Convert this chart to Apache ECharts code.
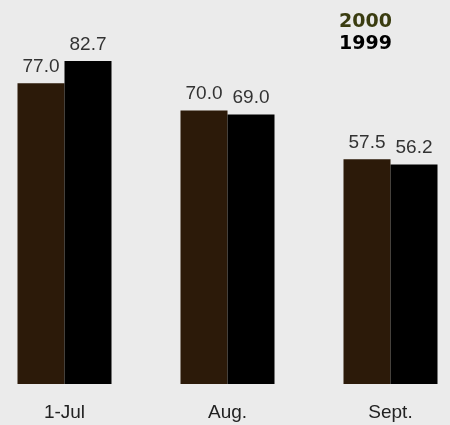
<!DOCTYPE html>
<html><head><meta charset="utf-8">
<script src="https://cdn.jsdelivr.net/npm/echarts@6/dist/echarts.min.js"></script>
<style>html,body{margin:0;padding:0;background:#ebebeb}#c{width:450px;height:425px}</style>
</head><body><div id="c"></div>
<script>
const categories = ['1-Jul', 'Aug.', 'Sept.'];
const values2000 = [77.0, 70.0, 57.5];
const values1999 = [82.7, 69.0, 56.2];
const seriesNames = ['2000', '1999'];

const chart = echarts.init(document.getElementById('c'), null, {renderer: 'canvas'});
const labelFont = {show: true, position: 'top', distance: 7, color: '#333', fontSize: 19,
  fontFamily: '"Liberation Sans", Arial, sans-serif',
  formatter: p => p.value.toFixed(1)};
chart.setOption({
  backgroundColor: '#ebebeb',
  animation: false,
  legend: {
    orient: 'vertical', right: 58, top: 13, itemGap: 3, itemWidth: 0, itemHeight: 0,
    selectedMode: false, padding: 0,
    textStyle: {fontSize: 19, fontWeight: 'bold', fontFamily: '"DejaVu Sans", sans-serif', padding: 0},
    data: [
      {name: seriesNames[0], icon: 'rect', textStyle: {color: '#3a3c10'}},
      {name: seriesNames[1], icon: 'rect', textStyle: {color: '#000'}}
    ]
  },
  grid: {left: 64.5, right: 59.5, top: 32.4, bottom: 41, containLabel: false},
  xAxis: {
    type: 'category', data: categories, boundaryGap: false,
    axisLine: {show: false}, axisTick: {show: false},
    axisLabel: {margin: 19, color: '#222', fontSize: 19,
      fontFamily: '"Liberation Sans", Arial, sans-serif'}
  },
  yAxis: {type: 'value', min: 0, max: 90, show: false, splitLine: {show: false}},
  series: [
    {name: seriesNames[0], type: 'bar', data: values2000, barWidth: 47, barGap: '0%',
     itemStyle: {color: '#2c1a09'}, label: labelFont},
    {name: seriesNames[1], type: 'bar', data: values1999, barWidth: 47, barGap: '0%',
     itemStyle: {color: '#000'}, label: labelFont}
  ]
});
</script></body></html>
